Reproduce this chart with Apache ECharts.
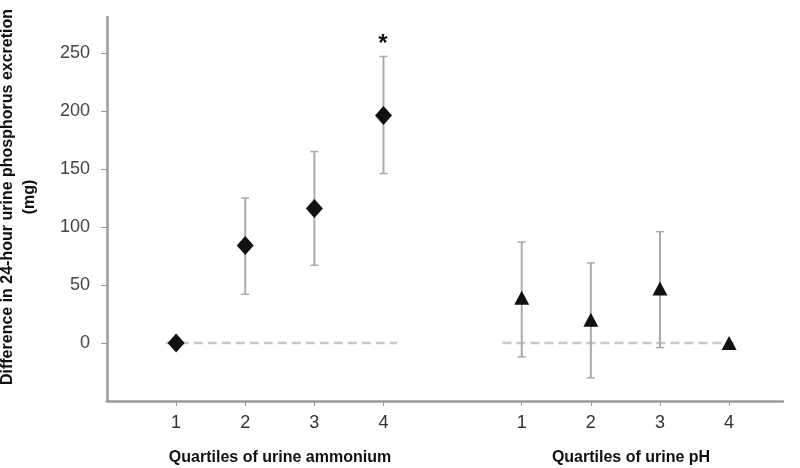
<!DOCTYPE html>
<html lang="en">
  <head>
    <meta charset="UTF-8" />
    <title>Urine phosphorus excretion by quartile</title>
    <script src="https://cdn.jsdelivr.net/npm/echarts@6/dist/echarts.min.js"></script>
    <style>
      body { margin: 0; background: #fff; }
    </style>
  </head>
  <body>
    <div id="main" style="width: 800px; height: 468px"></div>

    <script type="text/javascript">
      // x positions: ammonium quartiles at 1-4, pH quartiles at 6-9
      const ammPos = [1, 2, 3, 4];
      const ammMean = [0, 84, 116, 196];
      const ammLow = [0, 42, 67, 146];
      const ammHigh = [0, 125, 165, 247];

      const phPos = [6, 7, 8, 9];
      const phMean = [39, 20, 47, 0];
      const phLow = [-12, -30, -4, 0];
      const phHigh = [87, 69, 96, 0];

      const tickPos = [1, 2, 3, 4, 6, 7, 8, 9];
      const tickLabels = ["1", "2", "3", "4", "1", "2", "3", "4"];
      const yTicks = [0, 50, 100, 150, 200, 250];

      // dashed zero reference lines
      const ammRef = [[0.85, 0], [4.2, 0]];
      const phRef = [[5.72, 0], [9.07, 0]];

      let myChart = echarts.init(document.getElementById("main"));

      const errData = ammPos
        .map((x, i) => [x, ammLow[i], ammHigh[i]])
        .concat(phPos.map((x, i) => [x, phLow[i], phHigh[i]]))
        .filter((d) => d[2] > d[1]);

      const errorBars = {
        type: "custom",
        data: errData,
        z: 2,
        renderItem: (params, api) => {
          const lo = api.coord([api.value(0), api.value(1)]);
          const hi = api.coord([api.value(0), api.value(2)]);
          const w = 4;
          const style = { stroke: "#aaaaaa", lineWidth: 2 };
          return {
            type: "group",
            children: [
              { type: "line", shape: { x1: lo[0], y1: lo[1], x2: hi[0], y2: hi[1] }, style },
              { type: "line", shape: { x1: lo[0] - w, y1: lo[1], x2: lo[0] + w, y2: lo[1] }, style: { stroke: "#aaaaaa", lineWidth: 1.5 } },
              { type: "line", shape: { x1: hi[0] - w, y1: hi[1], x2: hi[0] + w, y2: hi[1] }, style: { stroke: "#aaaaaa", lineWidth: 1.5 } },
            ],
          };
        },
      };

      const refStyle = { color: "#c8c8c8", width: 2.5, type: [9, 5] };
      const font = "Liberation Sans, Arial, sans-serif";

      const options = {
        animation: false,
        grid: { left: 107, right: 17, top: 17, bottom: 67 },
        xAxis: {
          type: "value",
          min: 0,
          max: 9.78,
          splitLine: { show: false },
          axisLine: { onZero: false, lineStyle: { color: "#9a9a9a", width: 2.5 } },
          axisTick: { customValues: tickPos, length: 5, lineStyle: { color: "#9a9a9a" } },
          axisLabel: {
            customValues: tickPos,
            formatter: (v) => tickLabels[tickPos.indexOf(v)],
            color: "#333",
            fontSize: 18,
            fontFamily: font,
            margin: 13,
          },
        },
        yAxis: {
          type: "value",
          min: -50,
          max: 281,
          splitLine: { show: false },
          axisLine: { show: true, onZero: false, lineStyle: { color: "#9a9a9a", width: 2.5 } },
          axisTick: { show: true, customValues: yTicks, length: 6, lineStyle: { color: "#9a9a9a" } },
          axisLabel: {
            customValues: yTicks,
            color: "#444",
            fontSize: 18,
            fontFamily: font,
            margin: 17,
          },
        },
        series: [
          { type: "line", data: ammRef, symbol: "none", lineStyle: refStyle, z: 1 },
          { type: "line", data: phRef, symbol: "none", lineStyle: refStyle, z: 1 },
          errorBars,
          {
            type: "scatter",
            data: ammPos.map((x, i) => [x, ammMean[i]]),
            symbol: "diamond",
            symbolSize: [17, 19],
            itemStyle: { color: "#111", opacity: 1 },
            z: 3,
          },
          {
            type: "scatter",
            data: phPos.map((x, i) => [x, phMean[i]]),
            symbol: "triangle",
            symbolSize: [15, 14],
            itemStyle: { color: "#111", opacity: 1 },
            z: 3,
          },
        ],
        graphic: [
          {
            type: "text",
            x: 8,
            y: 197,
            rotation: Math.PI / 2,
            style: {
              text: "Difference in 24-hour urine phosphorus excretion",
              font: "bold 16px " + font,
              fill: "#111",
              align: "center",
              verticalAlign: "middle",
            },
          },
          {
            type: "text",
            x: 30,
            y: 197,
            rotation: Math.PI / 2,
            style: {
              text: "(mg)",
              font: "bold 16px " + font,
              fill: "#111",
              align: "center",
              verticalAlign: "middle",
            },
          },
          {
            type: "text",
            x: 280,
            y: 458,
            style: {
              text: "Quartiles of urine ammonium",
              font: "bold 16px " + font,
              fill: "#111",
              align: "center",
              verticalAlign: "middle",
            },
          },
          {
            type: "text",
            x: 631,
            y: 458,
            style: {
              text: "Quartiles of urine pH",
              font: "bold 16px " + font,
              fill: "#111",
              align: "center",
              verticalAlign: "middle",
            },
          },
          {
            type: "text",
            x: 383,
            y: 44,
            style: {
              text: "*",
              font: "bold 24px " + font,
              fill: "#111",
              align: "center",
              verticalAlign: "middle",
            },
          },
        ],
      };

      myChart.setOption(options);
    </script>
  </body>
</html>
